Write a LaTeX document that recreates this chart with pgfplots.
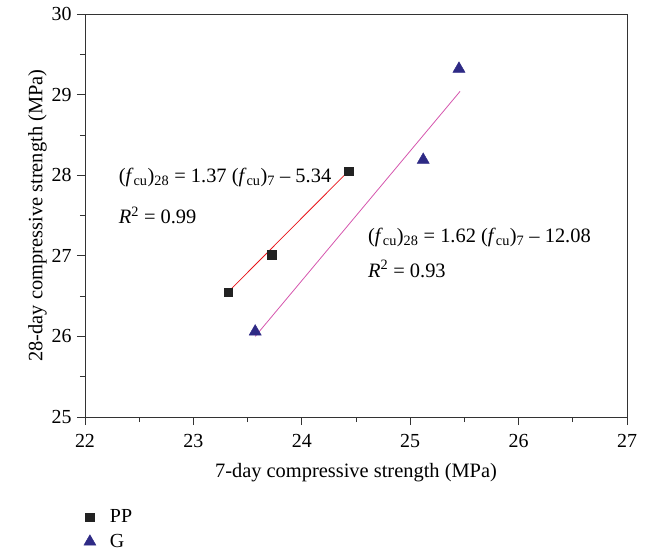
\documentclass[border=0pt]{standalone}
\usepackage{pgfplots}
\pgfplotsset{compat=1.18}
\usepackage{fontspec}
\setmainfont{Liberation Serif}
\definecolor{ppblack}{HTML}{222222}
\definecolor{gblue}{HTML}{2E2A85}
\definecolor{ppred}{HTML}{E8141B}
\definecolor{gpink}{HTML}{D555AD}
\begin{document}
\begin{tikzpicture}
\useasboundingbox (-85bp,-142bp) rectangle (563bp,417bp);
\begin{axis}[
    scale only axis,
    width=542bp, height=403bp,
    xmin=22, xmax=27, ymin=25, ymax=30,
    xtick={22,23,24,25,26,27},
    ytick={25,26,27,28,29,30},
    minor x tick num=1, minor y tick num=1,
    tick align=outside,
    xtick pos=left, ytick pos=left,
    major tick length=8bp, minor tick length=5bp,
    axis line style={line width=0.9pt, black!80},
    tick style={line width=0.7pt, black!80},
    /pgf/number format/assume math mode=true,
    ticklabel style={font=\fontsize{20}{22}\selectfont},
    label style={font=\fontsize{20.5}{23}\selectfont},
    xticklabel style={yshift=-6bp},
    yticklabel style={xshift=-2bp},
    xlabel={7-day compressive strength (MPa)},
    ylabel={28-day compressive strength (MPa)},
    xlabel style={yshift=-9bp},
    ylabel style={yshift=-2bp},
    legend style={at={(rel axis cs:-0.008,-0.22)}, anchor=north west, draw=none,
        font=\fontsize{20}{22}\selectfont, row sep=6bp, fill=none},
    legend cell align=left,
    clip=false,
]
\addplot[only marks, mark=square*, mark size=4.3bp, color=ppblack] coordinates {
    (23.32,26.55) (23.72,27.01) (24.43,28.05)
};
\addlegendentry{\hspace{12bp}PP}
\addplot[only marks, mark=triangle*, mark size=7bp, color=gblue] coordinates {
    (23.57,26.06) (25.12,28.19) (25.45,29.32)
};
\addlegendentry{\hspace{12bp}G}
\addplot[ppred, line width=0.8pt, forget plot] coordinates {(23.32,26.55) (24.43,28.05)};
\addplot[gpink, line width=0.8pt, forget plot] coordinates {(23.57,26.00) (25.46,29.04)};
\node[anchor=west, font=\fontsize{20.5}{23}\selectfont, inner sep=0pt] at (axis cs:22.31,27.97)
    {(\textit{f}\textsubscript{cu})\textsubscript{28} = 1.37 (\textit{f}\textsubscript{cu})\textsubscript{7} – 5.34};
\node[anchor=west, font=\fontsize{20.5}{23}\selectfont, inner sep=0pt] at (axis cs:22.31,27.50)
    {\textit{R}\textsuperscript{2} = 0.99};
\node[anchor=west, font=\fontsize{20.5}{23}\selectfont, inner sep=0pt] at (axis cs:24.61,27.23)
    {(\textit{f}\textsubscript{cu})\textsubscript{28} = 1.62 (\textit{f}\textsubscript{cu})\textsubscript{7} – 12.08};
\node[anchor=west, font=\fontsize{20.5}{23}\selectfont, inner sep=0pt] at (axis cs:24.61,26.84)
    {\textit{R}\textsuperscript{2} = 0.93};
\end{axis}
\end{tikzpicture}
\end{document}
